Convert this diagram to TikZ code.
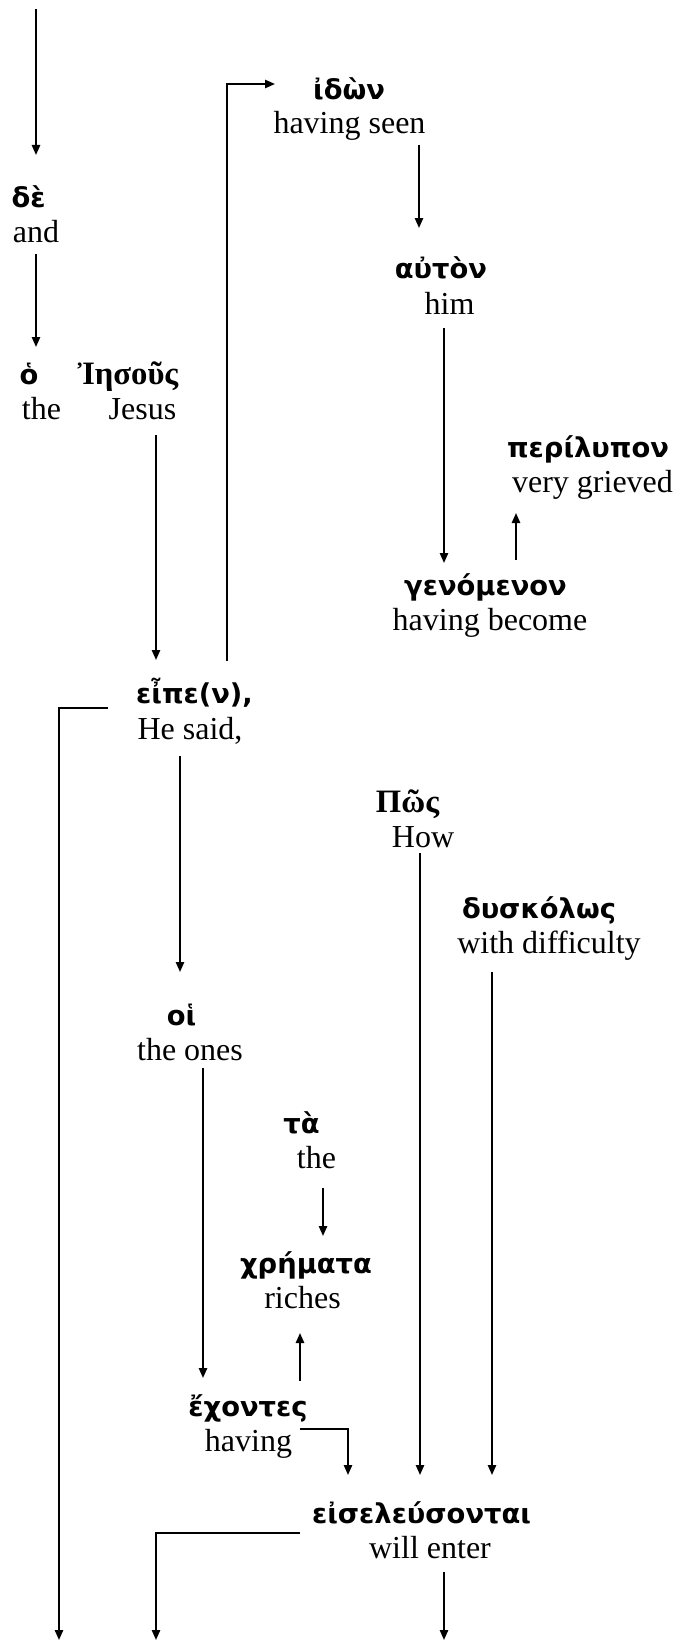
\documentclass[tikz,border=0pt]{standalone}
\usepackage{fontspec}
\setmainfont{Liberation Serif}
\newfontfamily\grkfont{DejaVu Sans}
\newfontfamily\grsfont{Liberation Serif}
\usetikzlibrary{arrows.meta}
\begin{document}
\begin{tikzpicture}[x=0.75pt,y=-0.75pt,
  eng/.style={anchor=base, inner sep=0pt, font=\fontsize{24}{28}\selectfont},
  grk/.style={anchor=base, inner sep=0pt, font=\fontsize{20.5}{24}\grkfont\bfseries},
  grs/.style={anchor=base, inner sep=0pt, font=\fontsize{24.5}{28}\grsfont\bfseries},
  arr/.style={line width=1.4pt, -{Triangle[length=7.5pt,width=6.2pt]}}]
\useasboundingbox (0,0) rectangle (679,1641);
% words
\node[grk] (de) at (28.5,207) {δὲ};
\node[eng] (and) at (36,242) {and};
\node[grk] (ho) at (29,384) {ὁ};
\node[grs] (iesous) at (128,384) {Ἰησοῦς};
\node[eng] (the1) at (41.5,419) {the};
\node[eng] (jesus) at (142.5,419) {Jesus};
\node[grk] (idon) at (349,100) {ἰδὼν};
\node[eng] (seen) at (349.5,134) {having seen};
\node[grk] (auton) at (441,278) {αὐτὸν};
\node[eng] (him) at (449.5,314) {him};
\node[grk] (peri) at (588,457) {περίλυπον};
\node[eng] (grieved) at (592.5,492) {very grieved};
\node[grk] (gen) at (485.5,595) {γενόμενον};
\node[eng] (become) at (490,630) {having become};
\node[grk] (eipe) at (194.5,703) {εἶπε(ν),};
\node[eng] (said) at (190,739) {He said,};
\node[grs] (pos) at (407.5,812) {Πῶς};
\node[eng] (how) at (423,847) {How};
\node[grk] (dysk) at (539,918) {δυσκόλως};
\node[eng] (diff) at (549,953) {with difficulty};
\node[grk] (hoi) at (181.5,1025) {οἱ};
\node[eng] (ones) at (190,1060) {the ones};
\node[grk] (ta) at (301.5,1133) {τὰ};
\node[eng] (the2) at (316.5,1168) {the};
\node[grk] (chre) at (306,1273) {χρήματα};
\node[eng] (riches) at (302.5,1308) {riches};
\node[grk] (echo) at (248,1416) {ἔχοντες};
\node[eng] (having) at (248.5,1451) {having};
\node[grk] (eis) at (421.5,1523) {εἰσελεύσονται};
\node[eng] (enter) at (430,1558) {will enter};
% connector end points
\coordinate (topstart) at (36,9);
\coordinate (deIn) at (36,155);
\coordinate (andOut) at (36,254);
\coordinate (hoIn) at (36,347);
\coordinate (jesusOut) at (156,435);
\coordinate (eipeIn) at (156,660);
\coordinate (eipeUp) at (227,661);
\coordinate (turnA) at (227,84);
\coordinate (idonIn) at (275,84);
\coordinate (seenOut) at (419,145);
\coordinate (autonIn) at (419,228);
\coordinate (himOut) at (444,328);
\coordinate (genIn) at (444,563);
\coordinate (genOut) at (516,560);
\coordinate (periIn) at (516,513);
\coordinate (eipeLeft) at (108,708);
\coordinate (turnB) at (59,708);
\coordinate (endB) at (59,1640);
\coordinate (saidOut) at (180,756);
\coordinate (hoiIn) at (180,972);
\coordinate (howOut) at (420,853);
\coordinate (eisInA) at (420,1475);
\coordinate (diffOut) at (492,972);
\coordinate (eisInB) at (492,1475);
\coordinate (onesOut) at (203,1068);
\coordinate (echoIn) at (203,1378);
\coordinate (theOut) at (323,1188);
\coordinate (chreIn) at (323,1236);
\coordinate (echoOut) at (300,1381);
\coordinate (chreInB) at (300,1333);
\coordinate (havingOut) at (300,1429);
\coordinate (turnC) at (348,1429);
\coordinate (eisInC) at (348,1475);
\coordinate (eisLeft) at (300,1533);
\coordinate (turnD) at (156,1533);
\coordinate (endD) at (156,1640);
\coordinate (enterOut) at (444,1572);
\coordinate (endE) at (444,1640);
% connectors
\draw[arr] (topstart) -- (deIn);
\draw[arr] (andOut) -- (hoIn);
\draw[arr] (jesusOut) -- (eipeIn);
\draw[arr] (eipeUp) -- (turnA) -- (idonIn);
\draw[arr] (seenOut) -- (autonIn);
\draw[arr] (himOut) -- (genIn);
\draw[arr] (genOut) -- (periIn);
\draw[arr] (eipeLeft) -- (turnB) -- (endB);
\draw[arr] (saidOut) -- (hoiIn);
\draw[arr] (howOut) -- (eisInA);
\draw[arr] (diffOut) -- (eisInB);
\draw[arr] (onesOut) -- (echoIn);
\draw[arr] (theOut) -- (chreIn);
\draw[arr] (echoOut) -- (chreInB);
\draw[arr] (havingOut) -- (turnC) -- (eisInC);
\draw[arr] (eisLeft) -- (turnD) -- (endD);
\draw[arr] (enterOut) -- (endE);
\end{tikzpicture}
\end{document}
